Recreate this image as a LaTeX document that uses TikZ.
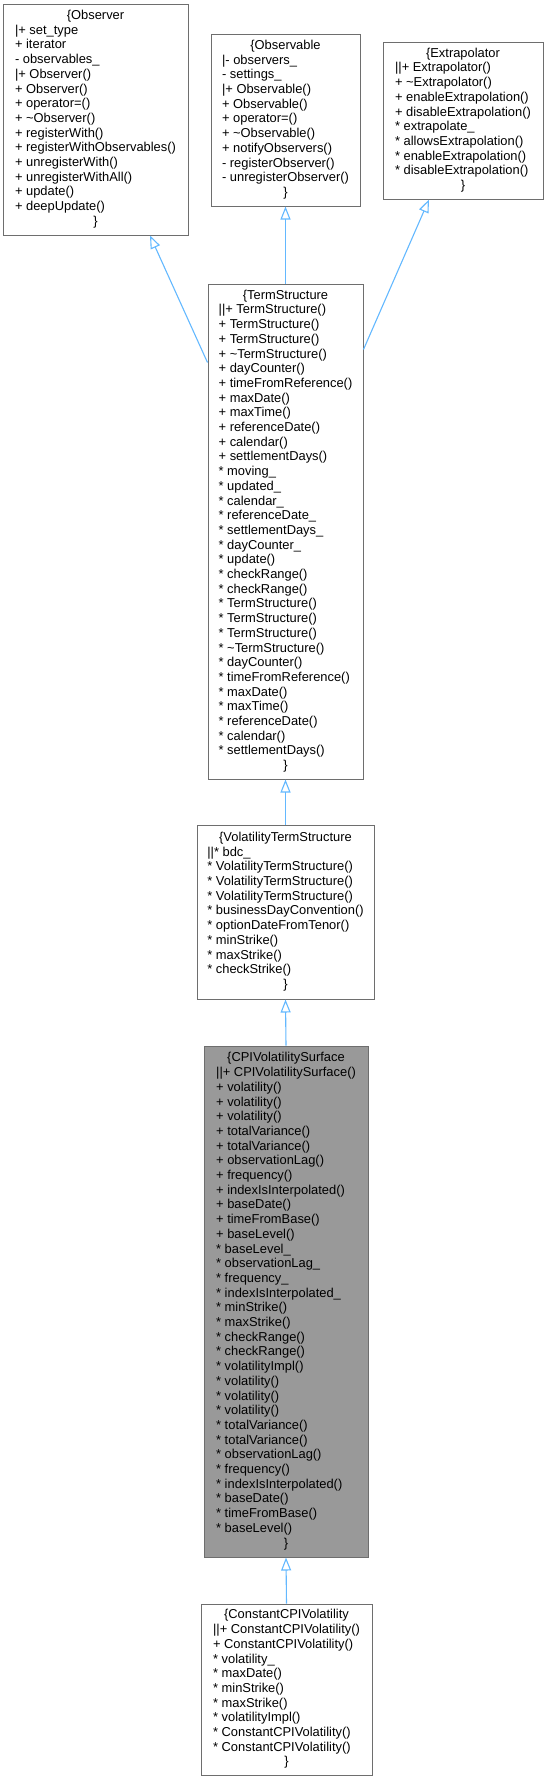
\documentclass[tikz,border=0pt]{standalone}
\usepackage{fontspec}
\setmainfont{Liberation Sans}
\usetikzlibrary{arrows.meta}
\definecolor{edgeblue}{HTML}{63B8FF}
\definecolor{boxline}{HTML}{6E6E6E}
\definecolor{curfill}{HTML}{999999}
\newcommand{\hd}[1]{\multicolumn{1}{@{}c@{}}{#1}}
\newcommand{\st}{{*}}
\tikzset{
  box/.style={draw=boxline, line width=1pt, fill=white, rectangle, inner sep=0pt,
    font=\fontsize{12.9}{14.7}\selectfont, anchor=center},
  curbox/.style={box, fill=curfill},
  inh/.style={draw=edgeblue, line width=1.1pt, -{Triangle[open, length=13pt, width=10pt]}}
}
\begin{document}
\begin{tikzpicture}[x=1pt, y=-1pt]
\useasboundingbox (0,0) rectangle (548,1781);

\node[box, minimum width=185pt, minimum height=231pt] (observer) at (95.5,119.5) {\begin{tabular}{@{}l@{}}
\hd{\{Observer}\\
|+ set\_type\\
+ iterator\\
- observables\_\\
|+ Observer()\\
+ Observer()\\
+ operator=()\\
+ \textasciitilde Observer()\\
+ registerWith()\\
+ registerWithObservables()\\
+ unregisterWith()\\
+ unregisterWithAll()\\
+ update()\\
+ deepUpdate()\\
\hd{\}}
\end{tabular}};

\node[box, minimum width=149pt, minimum height=172pt] (observable) at (285.5,120) {\begin{tabular}{@{}l@{}}
\hd{\{Observable}\\
|- observers\_\\
- settings\_\\
|+ Observable()\\
+ Observable()\\
+ operator=()\\
+ \textasciitilde Observable()\\
+ notifyObservers()\\
- registerObserver()\\
- unregisterObserver()\\
\hd{\}}
\end{tabular}};

\node[box, minimum width=160pt, minimum height=157pt] (extrapolator) at (463,120.5) {\begin{tabular}{@{}l@{}}
\hd{\{Extrapolator}\\
||+ Extrapolator()\\
+ \textasciitilde Extrapolator()\\
+ enableExtrapolation()\\
+ disableExtrapolation()\\
\st{} extrapolate\_\\
\st{} allowsExtrapolation()\\
\st{} enableExtrapolation()\\
\st{} disableExtrapolation()\\
\hd{\}}
\end{tabular}};

\node[box, minimum width=155pt, minimum height=495pt] (ts) at (285.5,531.5) {\begin{tabular}{@{}l@{}}
\hd{\{TermStructure}\\
||+ TermStructure()\\
+ TermStructure()\\
+ TermStructure()\\
+ \textasciitilde TermStructure()\\
+ dayCounter()\\
+ timeFromReference()\\
+ maxDate()\\
+ maxTime()\\
+ referenceDate()\\
+ calendar()\\
+ settlementDays()\\
\st{} moving\_\\
\st{} updated\_\\
\st{} calendar\_\\
\st{} referenceDate\_\\
\st{} settlementDays\_\\
\st{} dayCounter\_\\
\st{} update()\\
\st{} checkRange()\\
\st{} checkRange()\\
\st{} TermStructure()\\
\st{} TermStructure()\\
\st{} TermStructure()\\
\st{} \textasciitilde TermStructure()\\
\st{} dayCounter()\\
\st{} timeFromReference()\\
\st{} maxDate()\\
\st{} maxTime()\\
\st{} referenceDate()\\
\st{} calendar()\\
\st{} settlementDays()\\
\hd{\}}
\end{tabular}};

\node[box, minimum width=177pt, minimum height=174pt] (vts) at (285.5,912) {\begin{tabular}{@{}l@{}}
\hd{\{VolatilityTermStructure}\\
||\st{} bdc\_\\
\st{} VolatilityTermStructure()\\
\st{} VolatilityTermStructure()\\
\st{} VolatilityTermStructure()\\
\st{} businessDayConvention()\\
\st{} optionDateFromTenor()\\
\st{} minStrike()\\
\st{} maxStrike()\\
\st{} checkStrike()\\
\hd{\}}
\end{tabular}};

\node[curbox, minimum width=164pt, minimum height=511pt] (cpi) at (286,1301.5) {\begin{tabular}{@{}l@{}}
\hd{\{CPIVolatilitySurface}\\
||+ CPIVolatilitySurface()\\
+ volatility()\\
+ volatility()\\
+ volatility()\\
+ totalVariance()\\
+ totalVariance()\\
+ observationLag()\\
+ frequency()\\
+ indexIsInterpolated()\\
+ baseDate()\\
+ timeFromBase()\\
+ baseLevel()\\
\st{} baseLevel\_\\
\st{} observationLag\_\\
\st{} frequency\_\\
\st{} indexIsInterpolated\_\\
\st{} minStrike()\\
\st{} maxStrike()\\
\st{} checkRange()\\
\st{} checkRange()\\
\st{} volatilityImpl()\\
\st{} volatility()\\
\st{} volatility()\\
\st{} volatility()\\
\st{} totalVariance()\\
\st{} totalVariance()\\
\st{} observationLag()\\
\st{} frequency()\\
\st{} indexIsInterpolated()\\
\st{} baseDate()\\
\st{} timeFromBase()\\
\st{} baseLevel()\\
\hd{\}}
\end{tabular}};

\node[box, minimum width=171pt, minimum height=171pt] (constant) at (286.5,1689.5) {\begin{tabular}{@{}l@{}}
\hd{\{ConstantCPIVolatility}\\
||+ ConstantCPIVolatility()\\
+ ConstantCPIVolatility()\\
\st{} volatility\_\\
\st{} maxDate()\\
\st{} minStrike()\\
\st{} maxStrike()\\
\st{} volatilityImpl()\\
\st{} ConstantCPIVolatility()\\
\st{} ConstantCPIVolatility()\\
\hd{\}}
\end{tabular}};

\draw[inh] ([yshift=-79pt]ts.north west) -- ([xshift=54.5pt]observer.south);
\draw[inh] (ts.north) -- (observable.south);
\draw[inh] ([yshift=-66pt]ts.north east) -- ([xshift=-34pt]extrapolator.south);
\draw[inh] (vts.north) -- (ts.south);
\draw[inh] (cpi.north) -- (vts.south);
\draw[inh] (constant.north) -- (cpi.south);
\end{tikzpicture}
\end{document}
